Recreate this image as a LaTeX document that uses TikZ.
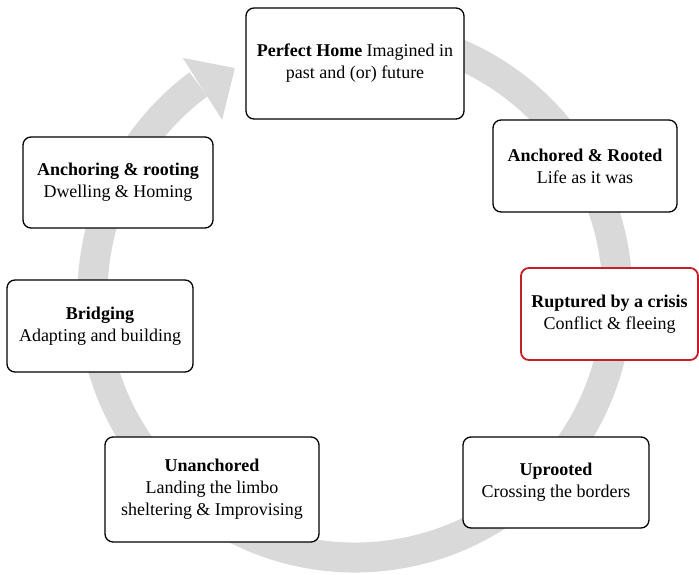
\documentclass[tikz,border=0pt]{standalone}
\usepackage{fontspec}
\setmainfont{Liberation Serif}
\usepackage{tikz}
\definecolor{ringgray}{RGB}{217,217,217}
\definecolor{crisisred}{RGB}{196,30,38}
\tikzstyle{stage} = [draw=black, line width=1.3pt, rounded corners=8pt, fill=white, align=center, inner sep=0pt, font=\fontsize{18}{22}\selectfont]
\tikzstyle{crisis} = [stage, draw=crisisred, line width=1.8pt]
\tikzstyle{ring} = [draw=ringgray, line width=30pt]

\begin{document}
\begin{tikzpicture}[x=1pt, y=1pt]
    \useasboundingbox (0,0) rectangle (699,575);
    % the grey cycle arrow
    \begin{scope}[shift={(355,280)}]
        \draw[ring] (100:262.5) arc[start angle=100, end angle=-233.4, radius=262.5];
        \fill[ringgray] (126.0:293) -- (117.9:256.8) -- (127.2:219.8) -- cycle;
    \end{scope}
    % stages
    \node[stage, minimum width=218pt, minimum height=111pt] (perfect) at (355,511.5) {\textbf{Perfect Home} Imagined in\\past and (or) future};
    \node[stage, minimum width=184pt, minimum height=92pt] (anchored) at (585,409) {\textbf{Anchored \& Rooted}\\Life as it was};
    \node[crisis, minimum width=177pt, minimum height=92pt] (ruptured) at (609.5,261) {\textbf{Ruptured by a crisis}\\Conflict \& fleeing};
    \node[stage, minimum width=186pt, minimum height=91pt] (uprooted) at (556,92.5) {\textbf{Uprooted}\\Crossing the borders};
    \node[stage, minimum width=214pt, minimum height=105pt] (unanchored) at (212,85.5) {\textbf{Unanchored}\\Landing the limbo\\sheltering \& Improvising};
    \node[stage, minimum width=186pt, minimum height=92pt] (bridging) at (100,249) {\textbf{Bridging}\\Adapting and building};
    \node[stage, minimum width=190pt, minimum height=91pt] (anchoring) at (118,392.5) {\textbf{Anchoring \& rooting}\\Dwelling \& Homing};
\end{tikzpicture}
\end{document}
